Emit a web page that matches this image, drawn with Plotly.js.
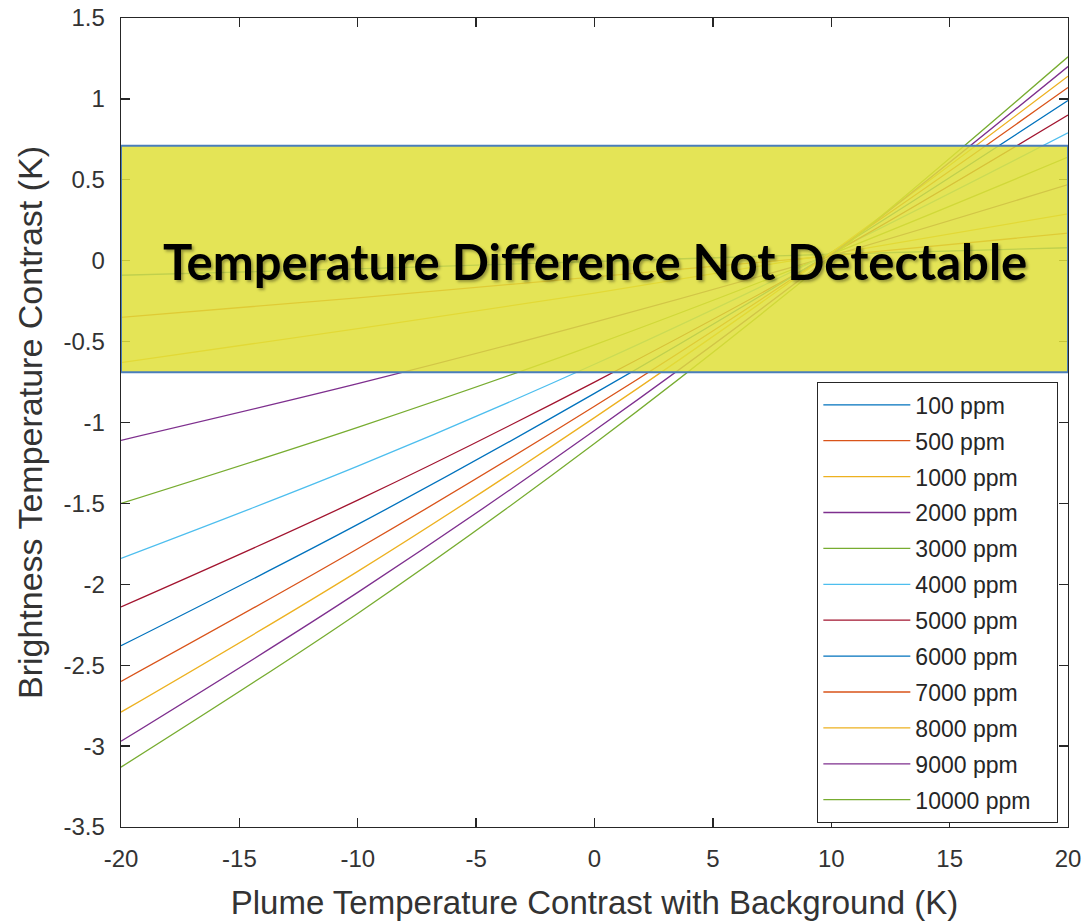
<!DOCTYPE html>
<html>
<head>
<meta charset="utf-8">
<script src="https://cdn.plot.ly/plotly-3.0.1.min.js"></script>
<style>
html,body{margin:0;padding:0;background:#fff;}
#chart{width:1087px;height:921px;}
</style>
</head>
<body>
<div id="chart"></div>
<script>
// Plume temperature contrast (K)
const xValues = [-20, -10, 0, 10, 20];
const seriesNames = ["100 ppm","500 ppm","1000 ppm","2000 ppm","3000 ppm","4000 ppm","5000 ppm","6000 ppm","7000 ppm","8000 ppm","9000 ppm","10000 ppm"];
// Brightness temperature contrast (K), one array per concentration
const ppm100   = [-0.09, -0.05, -0.005, 0.04, 0.08];
const ppm500   = [-0.35, -0.23, -0.10, 0.03, 0.17];
const ppm1000  = [-0.63, -0.42, -0.20, 0.04, 0.29];
const ppm2000  = [-1.11, -0.76, -0.38, 0.03, 0.47];
const ppm3000  = [-1.50, -1.03, -0.52, 0.04, 0.64];
const ppm4000  = [-1.84, -1.27, -0.64, 0.05, 0.79];
const ppm5000  = [-2.14, -1.48, -0.75, 0.04, 0.90];
const ppm6000  = [-2.38, -1.63, -0.82, 0.05, 0.99];
const ppm7000  = [-2.60, -1.78, -0.90, 0.05, 1.07];
const ppm8000  = [-2.79, -1.92, -0.97, 0.05, 1.14];
const ppm9000  = [-2.97, -2.05, -1.05, 0.03, 1.20];
const ppm10000 = [-3.13, -2.18, -1.13, 0.02, 1.26];
const seriesValues = [ppm100, ppm500, ppm1000, ppm2000, ppm3000, ppm4000, ppm5000, ppm6000, ppm7000, ppm8000, ppm9000, ppm10000];
const colors = ["#0072BD","#D95319","#EDB120","#7E2F8E","#77AC30","#4DBEEE","#A2142F","#0072BD","#D95319","#EDB120","#7E2F8E","#77AC30"];
const xTicks = [-20, -15, -10, -5, 0, 5, 10, 15, 20];
const yTicks = [1.5, 1, 0.5, 0, -0.5, -1, -1.5, -2, -2.5, -3, -3.5];
const bandRange = [-0.69, 0.71];
const bandLabel = "Temperature Difference Not Detectable";

const traces = seriesNames.map((name, i) => ({
  x: xValues, y: seriesValues[i], name: name, type: "scatter", mode: "lines",
  line: {color: colors[i], width: 1.3, shape: "spline", smoothing: 1},
  legendgroup: "g" + i
}));

const FONT = "Liberation Sans, Arial, sans-serif";
const axisCommon = {
  showline: true, mirror: "ticks", linecolor: "#262626", linewidth: 1.3,
  ticks: "inside", ticklen: 9, tickcolor: "#262626", tickwidth: 1.3,
  showgrid: false, zeroline: false,
  tickfont: {family: FONT, size: 24, color: "#333"}
};

const layout = {
  width: 1087, height: 921,
  margin: {l: 121, r: 19, t: 18, b: 94},
  paper_bgcolor: "#fff", plot_bgcolor: "#fff",
  showlegend: true,
  xaxis: Object.assign({}, axisCommon, {
    range: [-20, 20], tickvals: xTicks, ticktext: xTicks.map(String), ticklabelstandoff: 10,
    title: {text: "Plume Temperature Contrast with Background (K)", standoff: 21,
      font: {family: FONT, size: 33, color: "#333"}}
  }),
  yaxis: Object.assign({}, axisCommon, {
    range: [-3.5, 1.5], tickvals: yTicks, ticktext: yTicks.map(String), ticklabelstandoff: 10,
    title: {text: "Brightness Temperature Contrast (K)", standoff: 10,
      font: {family: FONT, size: 34, color: "#333"}}
  }),
  legend: {
    x: 0.735, y: 0.55, xanchor: "left", yanchor: "top",
    bgcolor: "#fff", bordercolor: "#262626", borderwidth: 1.3,
    font: {family: FONT, size: 23, color: "#262626"},
    tracegroupgap: 3, itemwidth: 87
  },
  shapes: [{
    type: "rect", xref: "x", yref: "y", x0: -20, x1: 20, y0: bandRange[0], y1: bandRange[1],
    fillcolor: "rgba(224,224,58,0.86)", line: {color: "#4A7EBB", width: 2}, layer: "above"
  }],
  annotations: [{
    x: 0, y: 0, xref: "x", yref: "y", text: bandLabel, showarrow: false,
    xanchor: "center", yanchor: "middle",
    font: {family: "Lato, Open Sans, sans-serif", size: 49, color: "#000", weight: 700,
      shadow: "2px 2px 3px rgba(0,0,0,0.35)"}
  }]
};

const gd = document.getElementById("chart");
Plotly.newPlot(gd, traces, layout, {staticPlot: true, displayModeBar: false}).then(() => {
  gd.querySelectorAll(".legend .traces .legendlines path").forEach(p => p.setAttribute("d", "M5,0h87"));
  const bg = gd.querySelector(".legend .bg");
  if (bg) bg.setAttribute("width", 240);
});
</script>
</body>
</html>
